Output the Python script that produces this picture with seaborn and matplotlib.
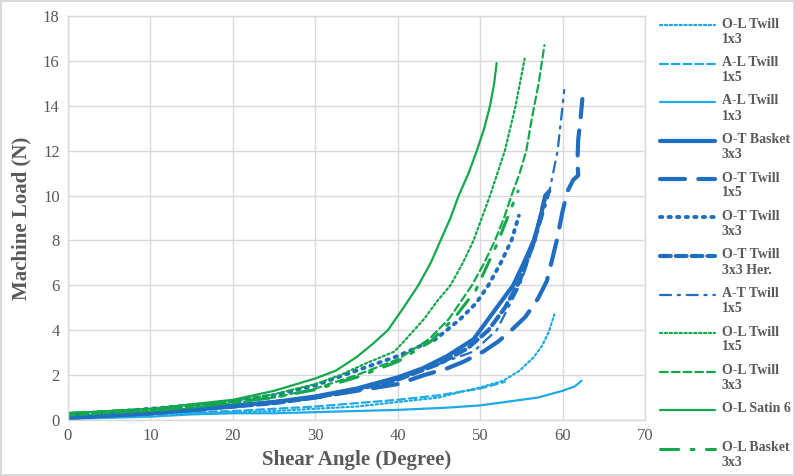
import matplotlib
matplotlib.use("Agg")
import matplotlib.pyplot as plt
from matplotlib.lines import Line2D
import seaborn as sns
import pandas as pd

# values (shear angle in degrees, load in N)
ol_twill_1x3_x = [0, 5, 10, 15, 20, 25, 30, 35, 40, 45, 47.6, 50, 52.8, 54.8, 56.5, 57.5, 58.3, 59.0]
ol_twill_1x3_y = [0.1, 0.2, 0.25, 0.3, 0.35, 0.4, 0.5, 0.6, 0.8, 1.0, 1.25, 1.45, 1.75, 2.2, 2.8, 3.3, 3.9, 4.7]

al_twill_1x5_x = [0, 5, 10, 15, 20, 25, 30, 35, 40, 45, 50, 53]
al_twill_1x5_y = [0.1, 0.25, 0.3, 0.35, 0.4, 0.5, 0.6, 0.75, 0.9, 1.1, 1.4, 1.7]

al_twill_1x3_x = [0, 5, 10, 15, 20, 25, 30, 35, 40, 46, 50, 54, 57, 60, 61.5, 62.3]
al_twill_1x3_y = [0.05, 0.1, 0.15, 0.25, 0.3, 0.3, 0.35, 0.4, 0.45, 0.55, 0.65, 0.85, 1.0, 1.3, 1.5, 1.75]

ot_basket_3x3_x = [0, 5, 10, 15, 20, 25, 30, 35, 40, 43, 46, 49.2, 51, 52.6, 54, 55.3, 56.5, 57.3, 57.9, 58.4]
ot_basket_3x3_y = [0.1, 0.2, 0.3, 0.45, 0.65, 0.8, 1.05, 1.4, 1.9, 2.3, 2.85, 3.6, 4.5, 5.3, 6.0, 7.0, 8.0, 9.0, 10.0, 10.2]

ot_twill_1x5_x = [0, 5, 10, 15, 20, 25, 30, 35, 40, 43.2, 46, 48, 50.4, 52.2, 53.5, 55.5, 57, 58.1, 59.3, 60.0, 60.6, 61.3, 61.9, 61.8, 61.9, 62.2, 62.4]
ot_twill_1x5_y = [0.1, 0.2, 0.3, 0.45, 0.6, 0.8, 1.0, 1.3, 1.6, 2.0, 2.3, 2.6, 3.05, 3.5, 3.9, 4.6, 5.4, 6.2, 8.0, 9.3, 10.2, 10.7, 10.9, 11.5, 12.5, 13.5, 14.3]

ot_twill_3x3_x = [0, 5, 10, 15, 20, 25, 30, 35, 40, 44.6, 47.6, 49.5, 51, 52.5, 53.8, 54.7]
ot_twill_3x3_y = [0.2, 0.35, 0.5, 0.65, 0.85, 1.1, 1.55, 2.2, 2.85, 3.6, 4.5, 5.2, 6.0, 7.0, 8.0, 9.1]

ot_twill_3x3h_x = [0, 5, 10, 15, 20, 25, 30, 35, 40, 45, 48.5, 51, 53, 54.8, 56.6, 57.8]
ot_twill_3x3h_y = [0.1, 0.2, 0.3, 0.45, 0.6, 0.75, 1.0, 1.35, 1.8, 2.5, 3.2, 4.0, 5.0, 6.2, 8.0, 9.8]

at_twill_1x5_x = [0, 5, 10, 15, 20, 25, 30, 35, 40, 45, 49.2, 52, 54.8, 56.7, 58.3, 59.4, 60.0, 60.2]
at_twill_1x5_y = [0.1, 0.2, 0.3, 0.45, 0.6, 0.8, 1.0, 1.35, 1.8, 2.5, 3.05, 4.0, 6.0, 8.0, 10.0, 12.0, 14.0, 14.7]

ol_twill_1x5_x = [0, 5, 10, 15, 20, 25, 30, 33, 36, 39.6, 41, 43.2, 44.8, 46.4, 47.9, 49.2, 50.2, 51.2, 52.1, 53, 54.3, 55.4]
ol_twill_1x5_y = [0.3, 0.4, 0.5, 0.65, 0.85, 1.15, 1.6, 2.0, 2.5, 3.05, 3.6, 4.5, 5.3, 6.0, 7.0, 8.0, 9.0, 10.0, 11.0, 12.0, 14.0, 16.1]

ol_twill_3x3_x = [0, 5, 10, 15, 20, 25, 30, 35, 40, 43.8, 46.2, 47.7, 49, 50.5, 51.8, 52.9, 53.8, 54.8, 55.6, 56.3, 57.1, 57.8]
ol_twill_3x3_y = [0.2, 0.3, 0.4, 0.55, 0.75, 1.0, 1.4, 2.0, 2.7, 3.6, 4.5, 5.3, 6.0, 7.0, 8.0, 9.0, 10.0, 11.0, 12.0, 13.5, 15.0, 16.7]

ol_satin_6_x = [0, 5, 10, 15, 20, 25, 30, 32.5, 35, 37, 38.8, 40.7, 42.5, 44, 45.2, 46.4, 47.4, 48.6, 49.6, 50.5, 51.2, 51.7, 52.0]
ol_satin_6_y = [0.3, 0.4, 0.5, 0.7, 0.9, 1.3, 1.85, 2.2, 2.8, 3.4, 4.0, 5.0, 6.0, 7.0, 8.0, 9.0, 10.0, 11.0, 12.0, 13.0, 14.0, 15.0, 15.9]

ol_basket_3x3_x = [0, 5, 10, 15, 20, 25, 30, 35, 40, 44, 47, 49.5, 52, 54.6]
ol_basket_3x3_y = [0.3, 0.4, 0.45, 0.6, 0.8, 1.0, 1.35, 1.9, 2.6, 3.5, 4.6, 5.8, 7.8, 10.2]

light = "#1eaae6"
blue = "#1f6ebf"
green = "#14a84c"

series = [
    ("O-L Twill\n1x3", ol_twill_1x3_x, ol_twill_1x3_y, dict(color=light, lw=1.6, ls=(0, (1, 1.2)))),
    ("A-L Twill\n1x5", al_twill_1x5_x, al_twill_1x5_y, dict(color=light, lw=1.6, ls=(0, (3.5, 1.8)))),
    ("A-L Twill\n1x3", al_twill_1x3_x, al_twill_1x3_y, dict(color=light, lw=1.6, ls="-")),
    ("O-T Basket\n3x3", ot_basket_3x3_x, ot_basket_3x3_y, dict(color=blue, lw=3.0, ls="-")),
    ("O-T Twill\n1x5", ot_twill_1x5_x, ot_twill_1x5_y, dict(color=blue, lw=3.0, ls=(0, (6, 3.2)))),
    ("O-T Twill\n3x3", ot_twill_3x3_x, ot_twill_3x3_y, dict(color=blue, lw=2.8, ls=(0, (0.6, 1.6)))),
    ("O-T Twill\n3x3 Her.", ot_twill_3x3h_x, ot_twill_3x3h_y, dict(color=blue, lw=3.0, ls=(0, (2.6, 1.2)))),
    ("A-T Twill\n1x5", at_twill_1x5_x, at_twill_1x5_y, dict(color=blue, lw=1.6, ls=(0, (5, 3, 1, 3)))),
    ("O-L Twill\n1x5", ol_twill_1x5_x, ol_twill_1x5_y, dict(color=green, lw=1.6, ls=(0, (1, 1.2)))),
    ("O-L Twill\n3x3", ol_twill_3x3_x, ol_twill_3x3_y, dict(color=green, lw=1.6, ls=(0, (3.5, 1.8)))),
    ("O-L Satin 6", ol_satin_6_x, ol_satin_6_y, dict(color=green, lw=1.6, ls="-")),
    ("O-L Basket\n3x3", ol_basket_3x3_x, ol_basket_3x3_y, dict(color=green, lw=2.2, ls=(0, (6, 4, 1, 4)))),
]

sns.set_theme(style="white")
plt.rcParams["font.family"] = ["Liberation Serif", "DejaVu Serif"]

gray_txt = "#595959"
grid_col = "#d9d9d9"

fig = plt.figure(figsize=(7.95, 4.76), dpi=100)
ax = fig.add_axes([68 / 795, 1 - 420 / 476, (645 - 68) / 795, (420 - 16) / 476])

for label, xs, ys, st in series:
    df = pd.DataFrame({"x": xs, "y": ys})
    sns.lineplot(data=df, x="x", y="y", ax=ax, sort=False, estimator=None,
                 color=st["color"], linewidth=st["lw"], linestyle=st["ls"],
                 dash_capstyle="round")

ax.set_xlim(0, 70)
ax.set_ylim(0, 18)
ax.set_xticks(range(0, 71, 10))
ax.set_yticks(range(0, 19, 2))
ax.grid(True, color=grid_col, linewidth=1)
ax.set_axisbelow(True)
for sp in ax.spines.values():
    sp.set_color(grid_col)
    sp.set_linewidth(1)
ax.tick_params(axis="both", labelsize=12, colors=gray_txt, length=0, pad=6)
ax.set_xlabel("Shear Angle (Degree)", fontsize=15, fontweight="bold", color=gray_txt, labelpad=4)
ax.set_ylabel("Machine Load (N)", fontsize=15, fontweight="bold", color=gray_txt, labelpad=8)

# legend drawn Excel-style: handle aligned with the first text line
top_px = 25
step_px = 38.5
for i, (label, xs, ys, st) in enumerate(series):
    yf = 1 - (top_px + i * step_px) / 476
    fig.add_artist(Line2D([660 / 795, 715 / 795], [yf, yf], transform=fig.transFigure,
                          color=st["color"], linewidth=st["lw"], linestyle=st["ls"],
                          dash_capstyle="round"))
    fig.text(722 / 795, yf + 7.5 / 476, label, ha="left", va="top", fontsize=10,
             fontweight="bold", color=gray_txt, linespacing=1.2)

fig.patch.set_edgecolor(grid_col)
fig.patch.set_linewidth(1.5)
fig.savefig("out.png", dpi=100, edgecolor=fig.get_edgecolor())
